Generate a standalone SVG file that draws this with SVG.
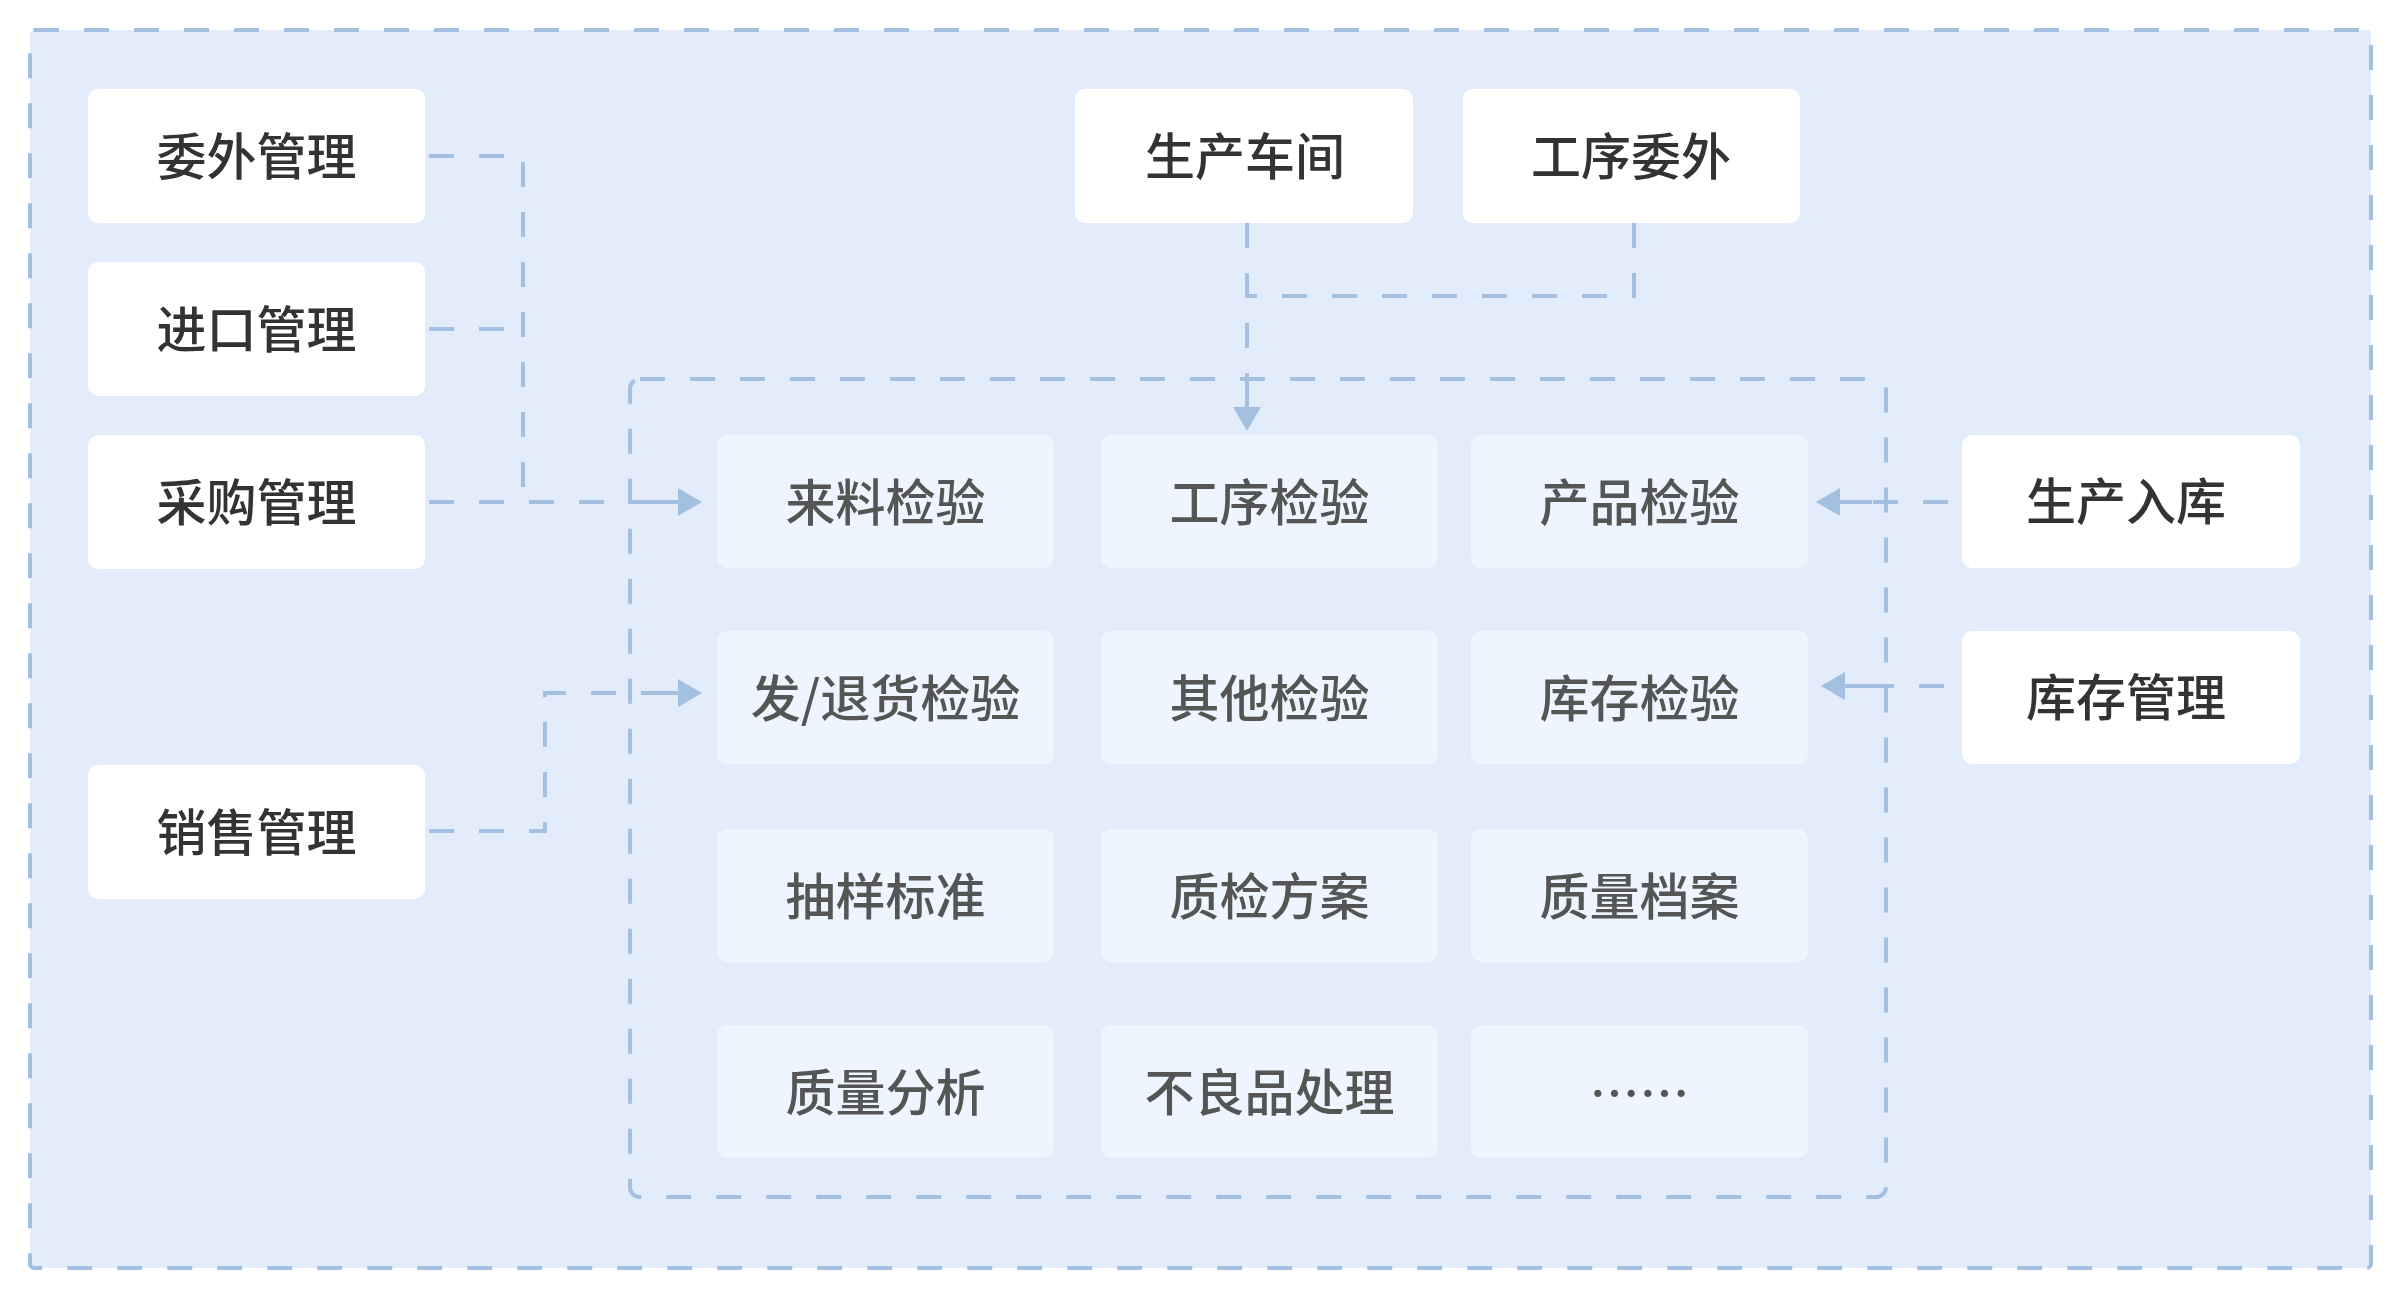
<svg xmlns="http://www.w3.org/2000/svg" width="2404" height="1300" viewBox="0 0 2404 1300">
<defs>
<style>
.frame{fill:#E2ECFA;stroke:#A4C0E1;stroke-width:4;stroke-dasharray:25 25}
.inner{fill:none;stroke:#A4C0E1;stroke-width:4;stroke-dasharray:25 25}
.ext rect{fill:#FFFFFF}
.mod rect{fill:#EEF5FE}
text{font-family:"Noto Sans CJK SC","Noto Sans",sans-serif;font-size:50px;font-weight:500;text-anchor:middle;dominant-baseline:central}
.ext text{fill:#333333}
.mod text{fill:#555555}
.conn path{fill:none;stroke:#A4C0E1;stroke-width:4;stroke-dasharray:25 25}
.conn path.arr{marker-end:url(#ah)}
</style>
<marker id="ah" markerUnits="userSpaceOnUse" markerWidth="58" markerHeight="28" viewBox="0 0 58 28" refX="32" refY="14" orient="auto" overflow="visible">
<rect x="0" y="12" width="34" height="4" fill="#A4C0E1"/>
<path d="M32,0 L56,14 L32,28 Z" fill="#A4C0E1"/>
</marker>
</defs>
<rect class="frame" x="30" y="30" width="2341" height="1238" rx="4"/>
<rect class="inner" x="630" y="379" width="1256" height="818" rx="10"/>

<g id="connectors" class="conn">
<path d="M429,156 H523 V502"/>
<path d="M429,329 H523"/>
<path class="arr" d="M429,502 H678"/>
<path class="arr" d="M429,831 H545 V693 H678"/>
<path class="arr" d="M1247,223 V407"/>
<path d="M1634,223 V296 H1247"/>
<path class="arr" d="M1948,502 H1840"/>
<path class="arr" d="M1944,686 H1845"/>
</g>

<g id="n-weiwai" class="ext"><rect x="88" y="89" width="337" height="134" rx="10"/><text x="256.5" y="153">委外管理</text></g>
<g id="n-jinkou" class="ext"><rect x="88" y="262" width="337" height="134" rx="10"/><text x="256.5" y="326">进口管理</text></g>
<g id="n-caigou" class="ext"><rect x="88" y="435" width="337" height="134" rx="10"/><text x="256.5" y="499">采购管理</text></g>
<g id="n-xiaoshou" class="ext"><rect x="88" y="765" width="337" height="134" rx="10"/><text x="256.5" y="829">销售管理</text></g>
<g id="n-chejian" class="ext"><rect x="1075" y="89" width="338" height="134" rx="10"/><text x="1245" y="153">生产车间</text></g>
<g id="n-gongxuweiwai" class="ext"><rect x="1463" y="89" width="337" height="134" rx="10"/><text x="1631" y="153">工序委外</text></g>
<g id="n-ruku" class="ext"><rect x="1962" y="435" width="338" height="133" rx="10"/><text x="2126" y="498">生产入库</text></g>
<g id="n-kucun" class="ext"><rect x="1962" y="631" width="338" height="133" rx="10"/><text x="2126" y="694">库存管理</text></g>

<g id="m-laoliao" class="mod"><rect x="717" y="435" width="337" height="133" rx="10"/><text x="885.5" y="498.5">来料检验</text></g>
<g id="m-gongxu" class="mod"><rect x="1101" y="435" width="337" height="133" rx="10"/><text x="1269.5" y="498.5">工序检验</text></g>
<g id="m-chanpin" class="mod"><rect x="1471" y="435" width="337" height="133" rx="10"/><text x="1639.5" y="498.5">产品检验</text></g>
<g id="m-fatui" class="mod"><rect x="717" y="631" width="337" height="133" rx="10"/><text x="885.5" y="695">发/退货检验</text></g>
<g id="m-qita" class="mod"><rect x="1101" y="631" width="337" height="133" rx="10"/><text x="1269.5" y="694.5">其他检验</text></g>
<g id="m-kucunjy" class="mod"><rect x="1471" y="631" width="337" height="133" rx="10"/><text x="1639.5" y="694.5">库存检验</text></g>
<g id="m-chouyang" class="mod"><rect x="717" y="829" width="337" height="133" rx="10"/><text x="885.5" y="892.5">抽样标准</text></g>
<g id="m-fangan" class="mod"><rect x="1101" y="829" width="337" height="133" rx="10"/><text x="1269.5" y="892.5">质检方案</text></g>
<g id="m-dangan" class="mod"><rect x="1471" y="829" width="337" height="133" rx="10"/><text x="1639.5" y="892.5">质量档案</text></g>
<g id="m-fenxi" class="mod"><rect x="717" y="1025" width="337" height="133" rx="10"/><text x="885.5" y="1088.5">质量分析</text></g>
<g id="m-buliang" class="mod"><rect x="1101" y="1025" width="337" height="133" rx="10"/><text x="1269.5" y="1088.5">不良品处理</text></g>
<g id="m-more" class="mod"><rect x="1471" y="1025" width="337" height="133" rx="10"/><text x="1639.5" y="1090">……</text></g>
</svg>
